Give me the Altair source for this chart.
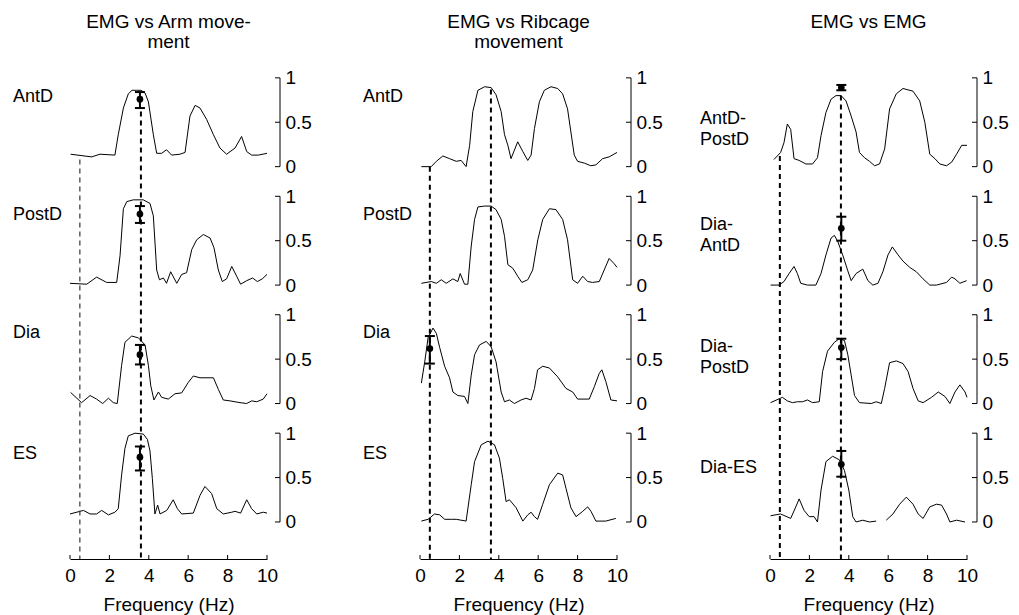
import altair as alt
import pandas as pd

FONT = "Liberation Sans"
FS = 19
LFS = 18
W, H = 197, 491
STEP = 1.334
YMIN, YMAX = -0.417, 5.113
ROW_OFFSET = [3 * STEP, 2 * STEP, STEP, 0.0]

col_titles = [["EMG vs Arm move-", "ment"], ["EMG vs Ribcage", "movement"], ["EMG vs EMG", " "]]
row_names = [["AntD", "PostD", "Dia", "ES"],
             ["AntD", "PostD", "Dia", "ES"],
             ["AntD-\nPostD", "Dia-\nAntD", "Dia-\nPostD", "Dia-ES"]]
row_label_v = [[0.78, 0.79, 0.80, 0.76], [0.78, 0.79, 0.80, 0.77], [0.54, 0.68, 0.64, 0.61]]
row_label_dx = [-57, -57, -70]
bracket_dx = [13, 14, 10]
ylabel_pad = [18, 19, 15]

freq_ticks = [0, 2, 4, 6, 8, 10]
bracket_ticks = [0, 0.5, 1]

# ---- Column 1: EMG vs Arm movement ----
c1_antd_f = [0.03, 1.1, 1.52, 2.28, 2.45, 2.71, 2.96, 3.15, 3.38, 3.6, 3.81, 3.98, 4.23, 4.4, 4.65, 4.9, 5.16, 5.58, 5.84, 6.09, 6.35, 6.6, 6.94, 7.28, 7.61, 7.95, 8.38, 8.71, 8.97, 9.22, 9.56, 10.0]
c1_antd_v = [0.14, 0.11, 0.14, 0.13, 0.36, 0.66, 0.82, 0.86, 0.86, 0.86, 0.83, 0.73, 0.36, 0.15, 0.15, 0.19, 0.13, 0.14, 0.16, 0.57, 0.69, 0.66, 0.53, 0.36, 0.21, 0.14, 0.21, 0.34, 0.17, 0.13, 0.13, 0.15]
c1_postd_f = [0.0, 0.85, 1.35, 1.86, 2.37, 2.54, 2.71, 2.88, 3.21, 3.72, 4.06, 4.23, 4.4, 4.54, 4.74, 4.9, 5.11, 5.42, 5.67, 5.92, 6.18, 6.43, 6.77, 7.11, 7.31, 7.53, 7.73, 7.95, 8.21, 8.46, 8.66, 8.97, 9.27, 9.51, 9.76, 10.0]
c1_postd_v = [0.02, 0.01, 0.09, 0.03, 0.03, 0.33, 0.86, 0.94, 0.96, 0.96, 0.92, 0.78, 0.17, 0.06, 0.08, 0.02, 0.15, 0.02, 0.12, 0.14, 0.40, 0.51, 0.57, 0.53, 0.42, 0.17, 0.04, 0.07, 0.21, 0.10, 0.01, 0.05, 0.08, 0.04, 0.07, 0.12]
c1_dia_f = [0.03, 0.59, 1.02, 1.35, 1.66, 1.95, 2.2, 2.4, 2.62, 2.79, 3.13, 3.47, 3.81, 3.98, 4.1, 4.26, 4.49, 4.65, 4.99, 5.33, 5.67, 6.01, 6.26, 6.6, 7.28, 7.53, 7.78, 8.12, 8.63, 8.97, 9.22, 9.48, 9.81, 10.0]
c1_dia_v = [0.125, 0.01, 0.09, 0.05, 0.0, 0.06, 0.01, 0.0, 0.43, 0.69, 0.76, 0.74, 0.66, 0.43, 0.2, 0.04, 0.13, 0.07, 0.05, 0.11, 0.12, 0.24, 0.31, 0.29, 0.29, 0.16, 0.04, 0.03, 0.01, 0.0, 0.03, 0.02, 0.05, 0.11]
c1_es_f = [0.0, 0.68, 1.02, 1.35, 1.61, 1.95, 2.28, 2.45, 2.62, 2.79, 2.96, 3.3, 3.72, 3.93, 4.06, 4.18, 4.31, 4.45, 4.57, 4.91, 5.24, 5.45, 5.67, 6.26, 6.6, 6.85, 7.19, 7.45, 7.78, 8.21, 8.38, 8.66, 8.97, 9.22, 9.48, 9.81, 10.0]
c1_es_v = [0.09, 0.13, 0.09, 0.09, 0.13, 0.08, 0.11, 0.15, 0.53, 0.83, 0.97, 1.0, 0.99, 0.93, 0.8, 0.49, 0.09, 0.19, 0.09, 0.13, 0.25, 0.15, 0.09, 0.1, 0.3, 0.4, 0.32, 0.15, 0.09, 0.11, 0.12, 0.1, 0.25, 0.15, 0.09, 0.11, 0.1]

# ---- Column 2: EMG vs Ribcage movement ----
c2_antd_f = [0.07, 0.57, 0.83, 1.16, 1.5, 1.84, 2.09, 2.34, 2.52, 2.68, 2.94, 3.28, 3.61, 3.86, 4.12, 4.29, 4.46, 4.62, 4.96, 5.22, 5.47, 5.64, 5.81, 6.06, 6.31, 6.65, 6.99, 7.24, 7.49, 7.66, 7.83, 8.0, 8.34, 8.67, 8.93, 9.27, 9.6, 10.0]
c2_antd_v = [0.0, 0.0, 0.06, 0.12, 0.09, 0.06, 0.07, 0.0, 0.24, 0.62, 0.86, 0.9, 0.89, 0.81, 0.62, 0.36, 0.24, 0.09, 0.28, 0.17, 0.07, 0.13, 0.43, 0.73, 0.86, 0.9, 0.88, 0.82, 0.65, 0.39, 0.13, 0.06, 0.04, 0.01, 0.02, 0.09, 0.11, 0.16]
c2_postd_f = [0.07, 0.57, 0.83, 1.08, 1.33, 1.67, 1.92, 2.04, 2.26, 2.43, 2.6, 2.77, 2.94, 3.28, 3.61, 3.86, 4.12, 4.29, 4.46, 4.71, 4.96, 5.17, 5.47, 5.72, 5.98, 6.23, 6.57, 6.9, 7.24, 7.49, 7.75, 8.0, 8.26, 8.51, 8.76, 9.1, 9.35, 9.6, 9.86, 10.0]
c2_postd_v = [0.02, 0.04, 0.02, 0.06, 0.02, 0.07, 0.04, 0.13, 0.01, 0.01, 0.44, 0.74, 0.88, 0.89, 0.89, 0.85, 0.74, 0.55, 0.23, 0.19, 0.1, 0.03, 0.06, 0.17, 0.51, 0.74, 0.86, 0.85, 0.74, 0.51, 0.06, 0.02, 0.1, 0.04, 0.03, 0.04, 0.17, 0.3, 0.24, 0.2]
c2_dia_f = [0.07, 0.24, 0.41, 0.66, 0.83, 1.0, 1.25, 1.5, 1.67, 1.92, 2.26, 2.43, 2.6, 2.77, 3.02, 3.36, 3.61, 3.86, 4.12, 4.29, 4.54, 4.79, 5.13, 5.38, 5.64, 5.81, 5.97, 6.23, 6.57, 6.99, 7.41, 7.75, 8.0, 8.59, 8.85, 9.1, 9.23, 9.43, 9.69, 10.0]
c2_dia_v = [0.23, 0.47, 0.74, 0.85, 0.79, 0.63, 0.42, 0.29, 0.13, 0.09, 0.08, 0.0, 0.32, 0.55, 0.66, 0.7, 0.64, 0.47, 0.13, 0.02, 0.04, 0.0, 0.04, 0.06, 0.04, 0.17, 0.38, 0.42, 0.4, 0.3, 0.17, 0.13, 0.05, 0.05, 0.19, 0.34, 0.38, 0.25, 0.04, 0.03]
c2_es_f = [0.07, 0.41, 0.74, 1.0, 1.25, 1.59, 1.84, 2.34, 2.6, 2.77, 3.11, 3.45, 3.78, 4.03, 4.2, 4.37, 4.54, 4.88, 5.22, 5.47, 5.64, 5.81, 5.97, 6.23, 6.57, 6.99, 7.24, 7.41, 7.66, 7.92, 8.26, 8.51, 8.68, 8.93, 9.43, 9.94]
c2_es_v = [0.01, 0.03, 0.09, 0.08, 0.03, 0.03, 0.03, 0.01, 0.42, 0.68, 0.87, 0.91, 0.87, 0.72, 0.49, 0.23, 0.25, 0.16, 0.01, 0.08, 0.11, 0.06, 0.03, 0.2, 0.42, 0.55, 0.53, 0.38, 0.16, 0.06, 0.12, 0.17, 0.12, 0.01, 0.01, 0.04]

# ---- Column 3: EMG vs EMG ----
c3_ap_f = [0.2, 0.54, 0.71, 0.88, 1.05, 1.22, 1.48, 1.82, 2.16, 2.41, 2.59, 2.84, 3.1, 3.35, 3.61, 3.86, 4.12, 4.37, 4.54, 4.8, 5.05, 5.31, 5.56, 5.82, 6.07, 6.41, 6.75, 7.26, 7.6, 7.86, 8.11, 8.37, 8.62, 8.96, 9.22, 9.47, 9.73, 10.0]
c3_ap_v = [0.08, 0.16, 0.27, 0.48, 0.42, 0.09, 0.07, 0.03, 0.03, 0.1, 0.35, 0.61, 0.76, 0.8, 0.8, 0.74, 0.57, 0.39, 0.16, 0.1, 0.06, 0.01, 0.03, 0.2, 0.65, 0.82, 0.88, 0.85, 0.74, 0.5, 0.14, 0.09, 0.03, 0.01, 0.05, 0.14, 0.24, 0.24]
c3_da_f = [0.03, 0.46, 0.71, 0.97, 1.22, 1.39, 1.56, 1.9, 2.33, 2.59, 2.84, 3.1, 3.27, 3.44, 3.69, 3.95, 4.12, 4.37, 4.71, 4.97, 5.22, 5.48, 5.73, 5.99, 6.21, 6.5, 6.75, 7.09, 7.43, 7.77, 8.11, 8.45, 8.96, 9.22, 9.39, 9.64, 9.98]
c3_da_v = [0.0, 0.0, 0.04, 0.13, 0.21, 0.13, 0.02, 0.0, 0.0, 0.13, 0.34, 0.53, 0.56, 0.49, 0.34, 0.16, 0.05, 0.13, 0.18, 0.05, 0.0, 0.02, 0.15, 0.34, 0.43, 0.34, 0.27, 0.2, 0.15, 0.07, 0.0, 0.0, 0.03, 0.09, 0.07, 0.02, 0.05]
c3_dp_f = [0.03, 0.63, 0.88, 1.14, 1.39, 1.65, 1.9, 2.16, 2.5, 2.67, 2.92, 3.27, 3.52, 3.78, 3.95, 4.12, 4.29, 4.54, 5.14, 5.39, 5.65, 5.82, 6.07, 6.41, 6.75, 7.01, 7.26, 7.52, 7.77, 8.2, 8.54, 8.88, 9.13, 9.39, 9.64, 9.9, 10.0]
c3_dp_v = [0.01, 0.07, 0.03, 0.01, 0.02, 0.02, 0.04, 0.01, 0.02, 0.36, 0.59, 0.69, 0.73, 0.71, 0.55, 0.32, 0.09, 0.01, 0.0, 0.02, 0.0, 0.17, 0.46, 0.48, 0.45, 0.36, 0.17, 0.03, 0.01, 0.07, 0.13, 0.08, 0.0, 0.13, 0.21, 0.13, 0.07]
c3_de_f = [0.03, 0.54, 1.05, 1.31, 1.48, 1.73, 1.99, 2.24, 2.41, 2.59, 2.84, 3.18, 3.52, 3.78, 4.0, 4.2, 4.37, 4.71, 5.05, 5.39, 5.6, 5.9, 6.24, 6.58, 6.92, 7.26, 7.52, 7.77, 8.11, 8.45, 8.71, 8.96, 9.13, 9.47, 9.9]
c3_de_v = [0.07, 0.09, 0.04, 0.17, 0.26, 0.13, 0.06, 0.06, 0.0, 0.36, 0.68, 0.74, 0.7, 0.58, 0.36, 0.06, 0.0, 0.02, 0.0, 0.01, None, 0.02, 0.09, 0.2, 0.28, 0.2, 0.09, 0.04, 0.17, 0.2, 0.19, 0.09, 0.0, 0.02, 0.0]

curves = [
    [(c1_antd_f, c1_antd_v), (c1_postd_f, c1_postd_v), (c1_dia_f, c1_dia_v), (c1_es_f, c1_es_v)],
    [(c2_antd_f, c2_antd_v), (c2_postd_f, c2_postd_v), (c2_dia_f, c2_dia_v), (c2_es_f, c2_es_v)],
    [(c3_ap_f, c3_ap_v), (c3_da_f, c3_da_v), (c3_dp_f, c3_dp_v), (c3_de_f, c3_de_v)],
]

# error bars (row, frequency, mean, low, high)
eb_row = [[0, 1, 2, 3], [2], [0, 1, 2, 3]]
eb_f = [[3.55, 3.55, 3.55, 3.55], [0.5], [3.62, 3.62, 3.62, 3.62]]
eb_v = [[0.76, 0.80, 0.55, 0.73], [0.62], [0.89, 0.64, 0.63, 0.65]]
eb_lo = [[0.66, 0.70, 0.44, 0.58], [0.45], [0.86, 0.50, 0.50, 0.51]]
eb_hi = [[0.84, 0.89, 0.66, 0.85], [0.76], [0.92, 0.77, 0.73, 0.80]]

# dashed reference lines (frequency, start value in top row)
dash_f = [[0.5, 3.6], [0.5, 3.6], [0.5, 3.6]]
dash_v = [[0.08, 0.62], [0.0, 0.87], [0.12, 0.8]]
dash_w = [[1.3, 2.0], [2.0, 2.0], [2.0, 2.0]]
dash_c = [["#444444", "black"], ["black", "black"], ["black", "black"]]

LABEL_EXPR = "'' + round((datum.value - floor((datum.value + 0.01) / %s) * %s) * 2) / 2" % (STEP, STEP)


def make_column(ci):
    rows = []
    seg = 0
    for r, (fs, vs) in enumerate(curves[ci]):
        seg += 1
        for f, v in zip(fs, vs):
            if v is None:
                seg += 1
                continue
            rows.append({"f": f, "Y": v + ROW_OFFSET[r], "seg": seg})
    df_curve = pd.DataFrame(rows)

    xs = alt.Scale(domain=[0, 10], nice=False, zero=False)
    ys = alt.Scale(domain=[YMIN, YMAX], nice=False, zero=False)
    yvals = [o + t for o in ROW_OFFSET for t in bracket_ticks]

    x_axis = alt.Axis(values=freq_ticks, ticks=False, tickSize=0, domainColor="black", domainWidth=1,
                      labelFont=FONT, labelFontSize=FS, labelColor="black", labelPadding=7,
                      labelFlush=False, grid=False, title="Frequency (Hz)", titleFont=FONT,
                      titleFontSize=FS, titleFontWeight="normal", titleColor="black", titlePadding=10)
    y_axis = alt.Axis(orient="right", values=yvals, labelExpr=LABEL_EXPR, domain=False, ticks=False,
                      tickSize=0, grid=False, title=None, labelFont=FONT, labelFontSize=FS,
                      labelColor="black", labelPadding=ylabel_pad[ci], labelFlush=False, labelOverlap=False)

    def X(field):
        return alt.X(field, scale=xs, axis=x_axis)

    def Y(field):
        return alt.Y(field, scale=ys, axis=y_axis)

    line = alt.Chart(df_curve).mark_line(color="black", strokeWidth=1).encode(
        x=X("f:Q"), y=Y("Y:Q"), detail="seg:N",
    )

    df_dash = pd.DataFrame({
        "f": dash_f[ci],
        "top": [ROW_OFFSET[0] + v for v in dash_v[ci]],
        "bot": [YMIN for _ in dash_f[ci]],
        "w": dash_w[ci],
        "c": dash_c[ci],
    })
    dash = alt.Chart(df_dash).mark_rule(strokeDash=[5, 4]).encode(
        x=X("f:Q"), y=Y("top:Q"), y2="bot:Q",
        strokeWidth=alt.StrokeWidth("w:Q", scale=None),
        color=alt.Color("c:N", scale=None),
    )

    bx = W + bracket_dx[ci]
    df_br = pd.DataFrame({"y0": ROW_OFFSET, "y1": [o + 1 for o in ROW_OFFSET]})
    bracket = alt.Chart(df_br).mark_rule(color="black", strokeWidth=1).encode(
        x=alt.value(bx), y=Y("y0:Q"), y2="y1:Q",
    )
    df_bt = pd.DataFrame({"yt": yvals})
    bticks = alt.Chart(df_bt).mark_rule(color="black", strokeWidth=1).encode(
        x=alt.value(bx - 5), x2=alt.value(bx), y=Y("yt:Q"),
    )

    df_xt = pd.DataFrame({"f": freq_ticks})
    xticks = alt.Chart(df_xt).mark_rule(color="black", strokeWidth=1).encode(
        x=X("f:Q"), y=alt.value(H), y2=alt.value(H - 4),
    )

    df_eb = pd.DataFrame({
        "f": eb_f[ci],
        "m": [ROW_OFFSET[r] + v for r, v in zip(eb_row[ci], eb_v[ci])],
        "lo": [ROW_OFFSET[r] + v for r, v in zip(eb_row[ci], eb_lo[ci])],
        "hi": [ROW_OFFSET[r] + v for r, v in zip(eb_row[ci], eb_hi[ci])],
    })
    eb_rule = alt.Chart(df_eb).mark_rule(color="black", strokeWidth=2).encode(
        x=X("f:Q"), y=Y("lo:Q"), y2="hi:Q",
    )
    cap_lo = alt.Chart(df_eb).mark_tick(orient="horizontal", size=10, thickness=2, color="black", opacity=1).encode(
        x=X("f:Q"), y=Y("lo:Q"),
    )
    cap_hi = alt.Chart(df_eb).mark_tick(orient="horizontal", size=10, thickness=2, color="black", opacity=1).encode(
        x=X("f:Q"), y=Y("hi:Q"),
    )
    pts = alt.Chart(df_eb).mark_circle(size=45, color="black", opacity=1).encode(
        x=X("f:Q"), y=Y("m:Q"),
    )

    df_lab = pd.DataFrame({
        "label": row_names[ci],
        "Y": [ROW_OFFSET[r] + v for r, v in enumerate(row_label_v[ci])],
    })
    labels = alt.Chart(df_lab).mark_text(align="left", baseline="middle", font=FONT, fontSize=LFS,
                                         lineHeight=21, lineBreak="\n", color="black").encode(
        x=alt.value(row_label_dx[ci]), y=Y("Y:Q"), text="label:N",
    )

    return alt.layer(line, dash, bracket, bticks, xticks, eb_rule, cap_lo, cap_hi, pts, labels).properties(
        width=W, height=H,
        title=alt.TitleParams(text=col_titles[ci], font=FONT, fontSize=FS, fontWeight="normal",
                              color="black", anchor="middle", lineHeight=20, offset=16),
    )


chart = alt.hconcat(make_column(0), make_column(1), make_column(2), spacing=153, bounds="flush").configure_view(
    stroke=None
).properties(background="white", padding={"left": 5, "top": 5, "right": 0, "bottom": 5})

chart.save("out.html", embed_options={"renderer": "svg", "actions": False})
